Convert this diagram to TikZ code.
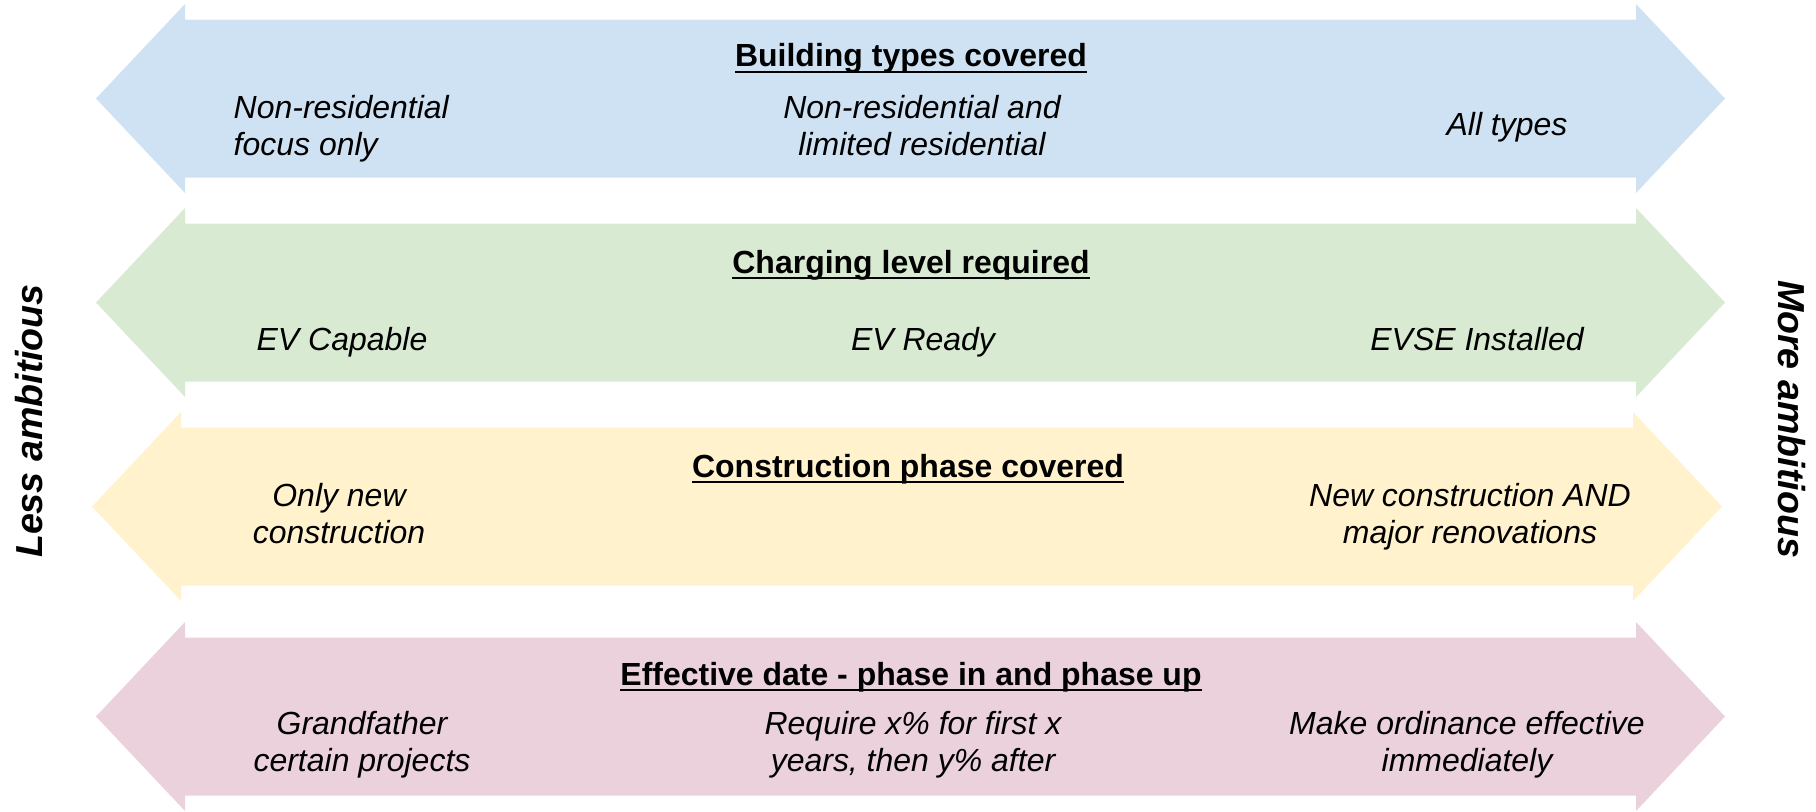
\documentclass[tikz,border=0pt]{standalone}
\usepackage{fontspec}
\setmainfont{Liberation Sans}
\usepackage{xcolor}
\usetikzlibrary{positioning}
\definecolor{bandblue}{HTML}{CFE2F3}
\definecolor{bandgreen}{HTML}{D9EAD3}
\definecolor{bandyellow}{HTML}{FFF2CC}
\definecolor{bandpink}{HTML}{EAD1DC}
\newcommand{\headline}[1]{\setbox0\hbox{#1}\rlap{\rule[-0.19em]{\wd0}{0.065em}}\box0}

\begin{document}
\begin{tikzpicture}[
    title/.style={font=\fontsize{9.1}{10.6}\selectfont\bfseries, anchor=base, inner sep=0pt},
    choice/.style={font=\fontsize{9.1}{10.5}\selectfont\itshape, anchor=base, align=center, inner sep=0pt},
    side/.style={font=\fontsize{10.7}{12}\selectfont\bfseries\itshape, anchor=base, inner sep=0pt}]
    \useasboundingbox (0, 0) rectangle (18.16, -8.11);
    \foreach \c/\y/\l/\r in {bandblue/-0.985/0.96/17.25, bandgreen/-3.025/0.96/17.25, bandyellow/-5.065/0.92/17.22, bandpink/-7.165/0.96/17.25} {
        \fill[\c] (\l, \y) -- (\l + 0.89, \y + 0.945) -- (\l + 0.89, \y + 0.79) -- (\r - 0.89, \y + 0.79)
            -- (\r - 0.89, \y + 0.945) -- (\r, \y) -- (\r - 0.89, \y - 0.945) -- (\r - 0.89, \y - 0.79)
            -- (\l + 0.89, \y - 0.79) -- (\l + 0.89, \y - 0.945) -- cycle;
    }
    \node[side, rotate=90] (less) at (0.42, -4.21) {Less ambitious};
    \node[side, rotate=-90] (more) at (17.78, -4.19) {More ambitious};

    % two-line texts sit on the baseline of their last line
    \node[title] (t1) at (9.11, -0.67) {\headline{Building types covered}};
    \node[choice, anchor=base west, align=left] (l1) at (2.33, -1.55) {Non-residential\\focus only};
    \node[choice] (m1) at (9.22, -1.55) {Non-residential and\\limited residential};
    \node[choice] (r1) at (15.07, -1.35) {All types};

    \node[title] (t2) at (9.11, -2.73) {\headline{Charging level required}};
    \node[choice] (l2) at (3.42, -3.50) {EV Capable};
    \node[choice] (m2) at (9.23, -3.50) {EV Ready};
    \node[choice] (r2) at (14.77, -3.50) {EVSE Installed};

    \node[title] (t3) at (9.08, -4.77) {\headline{Construction phase covered}};
    \node[choice] (l3) at (3.39, -5.43) {Only new\\construction};
    \node[choice] (r3) at (14.70, -5.43) {New construction AND\\major renovations};

    \node[title] (t4) at (9.11, -6.85) {\headline{Effective date - phase in and phase up}};
    \node[choice] (l4) at (3.62, -7.71) {Grandfather\\certain projects};
    \node[choice] (m4) at (9.13, -7.71) {Require x\% for first x\\years, then y\% after};
    \node[choice] (r4) at (14.67, -7.71) {Make ordinance effective\\immediately};
\end{tikzpicture}
\end{document}
